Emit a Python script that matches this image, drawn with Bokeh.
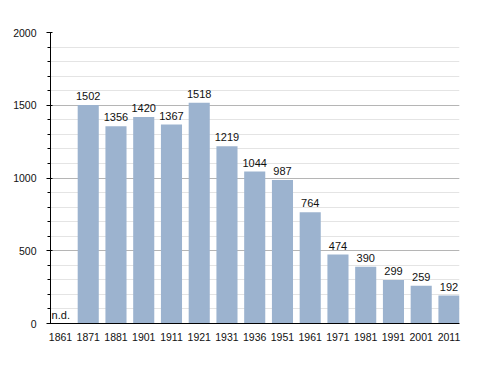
from bokeh.plotting import figure
from bokeh.models import ColumnDataSource, FixedTicker, Range1d, LabelSet, Label
from bokeh.core.properties import value
from bokeh.embed import file_html
from bokeh.resources import INLINE

years = ["1861", "1871", "1881", "1901", "1911", "1921", "1931", "1936",
         "1951", "1961", "1971", "1981", "1991", "2001", "2011"]
population = [0, 1502, 1356, 1420, 1367, 1518, 1219, 1044, 987, 764, 474, 390, 299, 259, 192]
bar_labels = ["", "1502", "1356", "1420", "1367", "1518", "1219", "1044", "987",
              "764", "474", "390", "299", "259", "192"]

idx = list(range(len(years)))
src = ColumnDataSource(dict(x=idx[1:], top=population[1:], lab=bar_labels[1:]))

FONT = "Liberation Sans"

p = figure(output_backend="svg", toolbar_location=None,
           frame_width=409, frame_height=291,
           min_border_left=50, min_border_top=32, min_border_right=12, min_border_bottom=26,
           x_range=Range1d(-0.36, 14.38), y_range=Range1d(0, 2000))
p.outline_line_color = None
p.background_fill_color = "white"

p.vbar(x="x", top="top", width=0.76, source=src, fill_color="#9cb3cf", line_color=None)

labels = LabelSet(x="x", y="top", text="lab", source=src, text_align="center",
                  text_baseline="bottom", y_offset=5, text_font_size="11px",
                  text_font=value(FONT), text_color="#111111")
p.add_layout(labels)

p.add_layout(Label(x=-0.32, y=0, text="n.d.", x_units="data", y_units="data",
                   text_font_size="11px", text_font=FONT,
                   text_baseline="bottom", y_offset=3, text_color="#111111"))

# y axis
p.yaxis.ticker = FixedTicker(ticks=[0, 500, 1000, 1500, 2000],
                             minor_ticks=list(range(0, 2001, 100)))
p.yaxis.axis_line_color = "black"
p.yaxis.major_tick_in = 2
p.yaxis.major_tick_out = 4
p.yaxis.minor_tick_in = 0
p.yaxis.minor_tick_out = 3
p.yaxis.major_label_text_font = FONT
p.yaxis.major_label_text_font_size = "10.5px"
p.yaxis.major_label_text_color = "#111111"
p.yaxis.major_label_standoff = 10

# x axis
p.xaxis.ticker = FixedTicker(ticks=idx)
p.xaxis.major_label_overrides = {i: y for i, y in zip(idx, years)}
p.xaxis.major_tick_line_color = None
p.xaxis.minor_tick_line_color = None
p.xaxis.axis_line_color = "black"
p.xaxis.major_label_text_font = FONT
p.xaxis.major_label_text_font_size = "10.5px"
p.xaxis.major_label_text_color = "#111111"
p.xaxis.major_label_standoff = 3

p.xgrid.grid_line_color = None
p.ygrid.grid_line_color = "#b5b5b5"
p.ygrid.minor_grid_line_color = "#e4e4e4"
p.ygrid.level = "underlay"

open("out.html", "w").write(file_html(p, INLINE))
